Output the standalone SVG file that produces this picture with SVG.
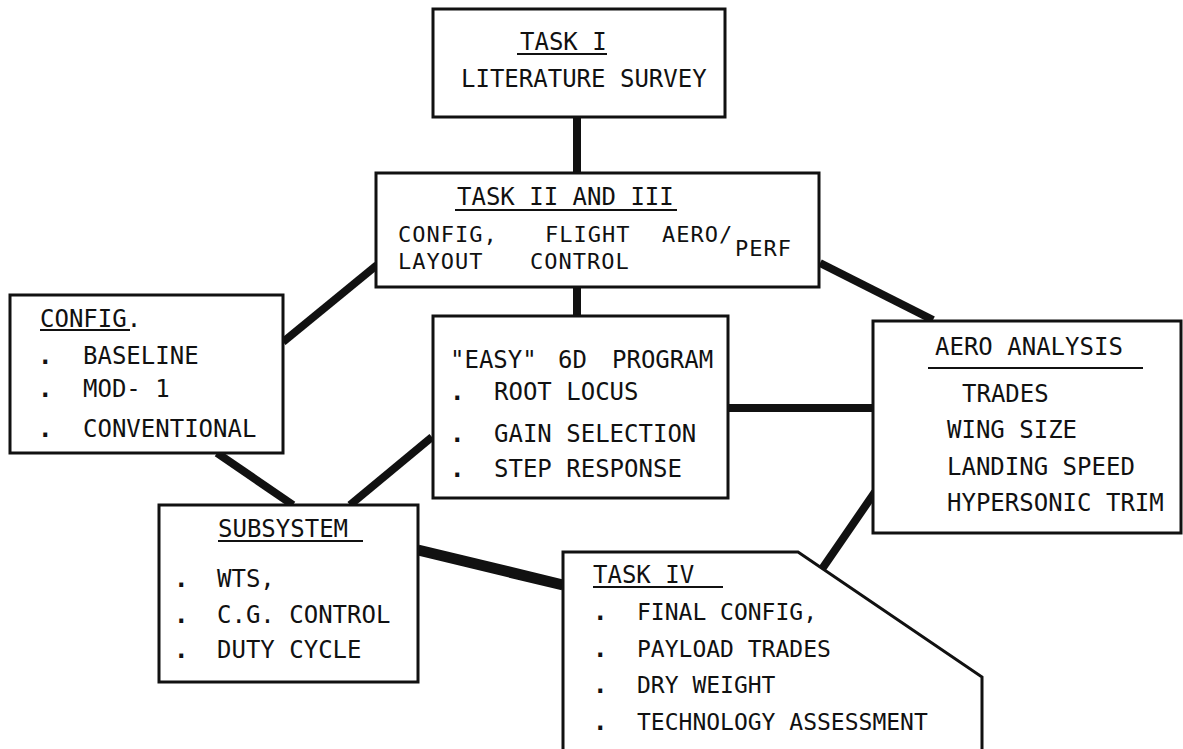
<svg xmlns="http://www.w3.org/2000/svg" width="1183" height="749" viewBox="0 0 1183 749">
<style>
.box{fill:#fff;stroke:#111;stroke-width:3;stroke-linejoin:miter}
.con{stroke:#111;stroke-width:8;stroke-linecap:butt;fill:none}
.ul{stroke:#111;stroke-width:2}
text{font-family:"DejaVu Sans Mono","Liberation Mono",monospace;font-size:24px;fill:#111}
.s{font-size:23px}
.t{font-size:22px;letter-spacing:1px}
.b{font-weight:bold}
</style>
<rect width="1183" height="749" fill="#fff"/>
<g id="connectors">
<line class="con" x1="577" y1="117" x2="577" y2="173"/>
<line class="con" x1="577" y1="287" x2="577" y2="316"/>
<line class="con" x1="283" y1="342" x2="377" y2="265"/>
<line class="con" x1="820" y1="263" x2="933" y2="320"/>
<line class="con" x1="728" y1="408" x2="873" y2="408"/>
<line class="con" x1="217" y1="453" x2="293" y2="505"/>
<line class="con" x1="432" y1="437" x2="350" y2="505"/>
<line class="con" style="stroke-width:11" x1="418" y1="550" x2="563" y2="585"/>
<line class="con" x1="875" y1="492" x2="822" y2="569"/>
</g>
<g id="task1">
<rect class="box" x="433" y="9" width="292" height="108"/>
<text x="520" y="50">TASK I</text>
<line class="ul" x1="517" y1="54" x2="607" y2="54"/>
<text x="461" y="87">LITERATURE SURVEY</text>
</g>
<g id="task2">
<rect class="box" x="376" y="173" width="443" height="114"/>
<text x="457" y="205">TASK II AND III</text>
<line class="ul" x1="455" y1="210" x2="677" y2="210"/>
<text class="t" x="398" y="242">CONFIG,</text>
<text class="t" x="545" y="242">FLIGHT</text>
<text class="t" x="662" y="242">AERO/</text>
<text class="t" x="735" y="256">PERF</text>
<text class="t" x="398" y="269">LAYOUT</text>
<text class="t" x="530" y="269">CONTROL</text>
</g>
<g id="config">
<rect class="box" x="10" y="295" width="273" height="158"/>
<text x="40" y="327">CONFIG.</text>
<line class="ul" x1="40" y1="330" x2="130" y2="330"/>
<text class="b" x="38" y="364">.</text>
<text class="b" x="38" y="397">.</text>
<text class="b" x="38" y="437">.</text>
<text x="83" y="364">BASELINE</text>
<text x="83" y="397">MOD- 1</text>
<text x="83" y="437">CONVENTIONAL</text>
</g>
<g id="easy">
<rect class="box" x="433" y="316" width="295" height="182"/>
<text x="450" y="368">"EASY"</text>
<text x="558" y="368">6D</text>
<text x="612" y="368">PROGRAM</text>
<text class="b" x="450" y="400">.</text>
<text class="b" x="450" y="442">.</text>
<text class="b" x="450" y="477">.</text>
<text x="494" y="400">ROOT LOCUS</text>
<text x="494" y="442">GAIN SELECTION</text>
<text x="494" y="477">STEP RESPONSE</text>
</g>
<g id="aero">
<rect class="box" x="873" y="321" width="308" height="212"/>
<text x="935" y="355">AERO ANALYSIS</text>
<line class="ul" x1="928" y1="368" x2="1143" y2="368"/>
<text x="962" y="402">TRADES</text>
<text x="947" y="438">WING SIZE</text>
<text x="947" y="475">LANDING SPEED</text>
<text x="947" y="511">HYPERSONIC TRIM</text>
</g>
<g id="subsystem">
<rect class="box" x="159" y="505" width="259" height="177"/>
<text x="218" y="537">SUBSYSTEM</text>
<line class="ul" x1="218" y1="541" x2="363" y2="541"/>
<text class="b" x="174" y="587">.</text>
<text class="b" x="174" y="623">.</text>
<text class="b" x="174" y="658">.</text>
<text x="217" y="587">WTS,</text>
<text x="217" y="623">C.G. CONTROL</text>
<text x="217" y="658">DUTY CYCLE</text>
</g>
<g id="task4">
<path class="box" d="M563,751 V552 H798 L982,677 V751"/>
<text x="593" y="583">TASK IV</text>
<line class="ul" x1="593" y1="587" x2="723" y2="587"/>
<text class="b" x="593" y="620">.</text>
<text class="b" x="593" y="657">.</text>
<text class="b" x="593" y="693">.</text>
<text class="b" x="593" y="730">.</text>
<text class="s" x="637" y="620">FINAL CONFIG,</text>
<text class="s" x="637" y="657">PAYLOAD TRADES</text>
<text class="s" x="637" y="693">DRY WEIGHT</text>
<text class="s" x="637" y="730">TECHNOLOGY ASSESSMENT</text>
</g>
</svg>
